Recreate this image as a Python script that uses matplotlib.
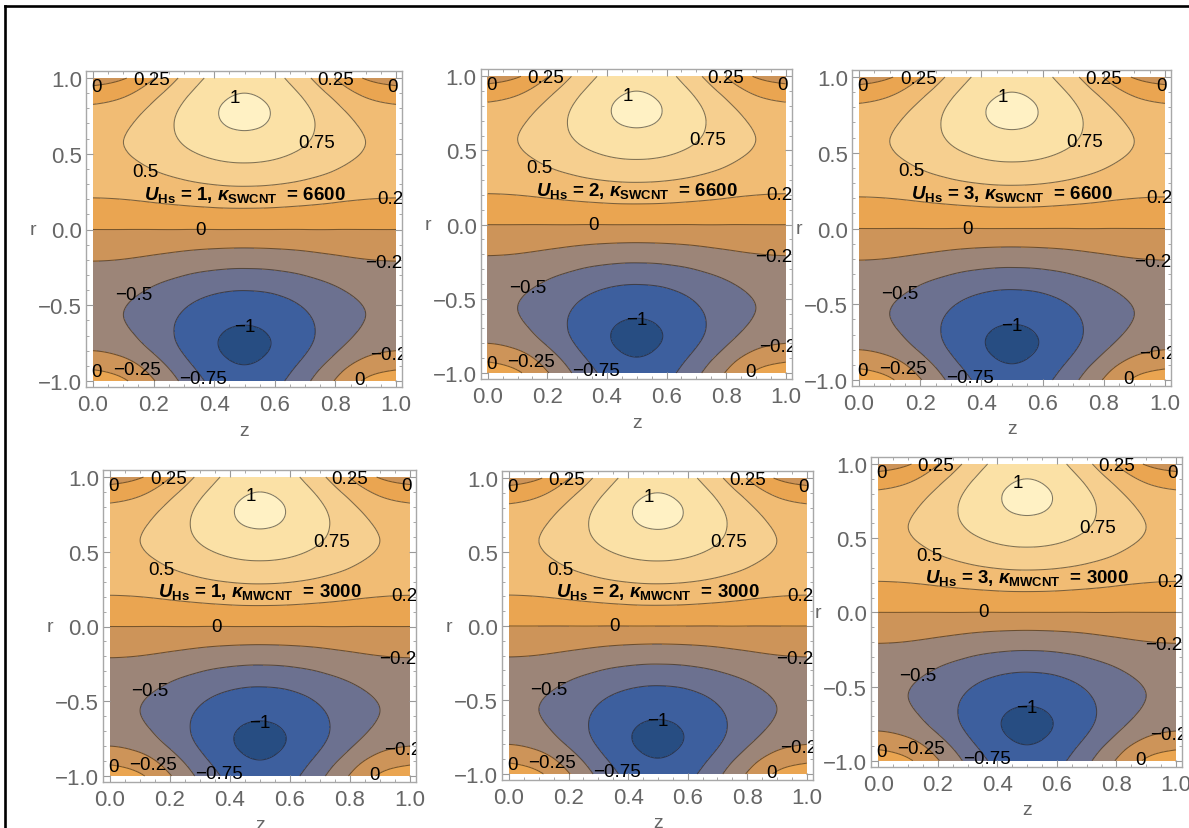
import numpy as np
import matplotlib
matplotlib.use("Agg")
import matplotlib.pyplot as plt
from matplotlib import tri as mtri
from matplotlib.lines import Line2D
from matplotlib.ticker import MultipleLocator

# ---------------- data ----------------
z_vals = [0.0, 0.1, 0.2, 0.3, 0.4, 0.5, 0.6, 0.7, 0.8, 0.9, 1.0]
r_vals = [-1.0, -0.9, -0.8, -0.7, -0.6, -0.5, -0.4, -0.3, -0.2, -0.1, 0.0,
          0.1, 0.2, 0.3, 0.4, 0.5, 0.6, 0.7, 0.8, 0.9, 1.0]

# field value at (r, z); one row per r value (from r=-1 to r=1)
field_rows = [
    [0.13, 0.030, -0.233, -0.557, -0.820, -0.92, -0.820, -0.557, -0.233, 0.030, 0.13],
    [-0.05, -0.140, -0.377, -0.668, -0.905, -0.995, -0.905, -0.668, -0.377, -0.140, -0.05],
    [-0.25, -0.326, -0.526, -0.774, -0.974, -1.05, -0.974, -0.774, -0.526, -0.326, -0.25],
    [-0.385, -0.448, -0.611, -0.814, -0.977, -1.04, -0.977, -0.814, -0.611, -0.448, -0.385],
    [-0.445, -0.496, -0.628, -0.792, -0.924, -0.975, -0.924, -0.792, -0.628, -0.496, -0.445],
    [-0.45, -0.491, -0.597, -0.728, -0.834, -0.875, -0.834, -0.728, -0.597, -0.491, -0.45],
    [-0.41, -0.442, -0.526, -0.629, -0.713, -0.745, -0.713, -0.629, -0.526, -0.442, -0.41],
    [-0.34, -0.362, -0.421, -0.494, -0.553, -0.575, -0.553, -0.494, -0.421, -0.362, -0.34],
    [-0.24, -0.255, -0.295, -0.345, -0.385, -0.40, -0.385, -0.345, -0.295, -0.255, -0.24],
    [-0.12, -0.128, -0.149, -0.176, -0.197, -0.205, -0.197, -0.176, -0.149, -0.128, -0.12],
    [0.0, 0.0, 0.0, 0.0, 0.0, 0.0, 0.0, 0.0, 0.0, 0.0, 0.0],
    [0.12, 0.126, 0.141, 0.159, 0.174, 0.18, 0.174, 0.159, 0.141, 0.126, 0.12],
    [0.24, 0.251, 0.280, 0.315, 0.344, 0.355, 0.344, 0.315, 0.280, 0.251, 0.24],
    [0.34, 0.358, 0.404, 0.461, 0.507, 0.525, 0.507, 0.461, 0.404, 0.358, 0.34],
    [0.41, 0.437, 0.507, 0.593, 0.663, 0.69, 0.663, 0.593, 0.507, 0.437, 0.41],
    [0.45, 0.487, 0.583, 0.702, 0.798, 0.835, 0.798, 0.702, 0.583, 0.487, 0.45],
    [0.45, 0.498, 0.624, 0.781, 0.907, 0.955, 0.907, 0.781, 0.624, 0.498, 0.45],
    [0.40, 0.460, 0.618, 0.812, 0.970, 1.03, 0.970, 0.812, 0.618, 0.460, 0.40],
    [0.29, 0.363, 0.553, 0.787, 0.977, 1.05, 0.977, 0.787, 0.553, 0.363, 0.29],
    [0.11, 0.195, 0.418, 0.693, 0.915, 1.0, 0.915, 0.693, 0.418, 0.195, 0.11],
    [-0.12, -0.021, 0.239, 0.561, 0.821, 0.92, 0.821, 0.561, 0.239, -0.021, -0.12],
]

contour_levels = [-1.0, -0.75, -0.5, -0.25, 0.0, 0.25, 0.5, 0.75, 1.0]

u_hs = [1, 2, 3, 1, 2, 3]
nanotube = ["SWCNT", "SWCNT", "SWCNT", "MWCNT", "MWCNT", "MWCNT"]
kappa = [6600, 6600, 6600, 3000, 3000, 3000]

# ---------------- style / layout ----------------
band_colors = ["#274d82", "#3d5f9e", "#6c7190", "#9c8578", "#cd9459",
               "#eaa551", "#f1bc74", "#f6cf8f", "#fbe1a6", "#fff1c4"]

# contour label positions (z, r) and which level they show
label_specs = [(0.012, 0.945, 0.0), (0.194, 0.99, 0.25), (0.80, 0.99, 0.25),
               (0.989, 0.945, 0.0), (0.469, 0.873, 1.0), (0.738, 0.571, 0.75),
               (0.172, 0.382, 0.5), (0.998, 0.206, 0.25), (0.355, 0.003, 0.0),
               (0.978, -0.217, -0.25), (0.133, -0.426, -0.5), (0.50, -0.639, -1.0),
               (0.992, -0.822, -0.25), (0.881, -0.990, 0.0), (0.364, -0.985, -0.75),
               (0.144, -0.921, -0.25), (0.012, -0.939, 0.0)]

# data region of each panel in pixels: z=0, z=1, r=1, r=-1
panel_px = [(93, 396, 79, 382), (487.7, 785.7, 77.3, 374), (859, 1165, 78, 381),
            (110, 410, 478, 777), (509, 806.7, 479, 775), (878.3, 1176, 465, 761.7)]

W, H = 1189, 829
plt.rcParams["font.family"] = ["Liberation Sans", "DejaVu Sans"]
plt.rcParams["mathtext.fontset"] = "custom"
plt.rcParams["mathtext.rm"] = "Liberation Sans:bold"
plt.rcParams["mathtext.it"] = "Liberation Sans:bold:italic"
plt.rcParams["mathtext.bf"] = "Liberation Sans:bold"

fig = plt.figure(figsize=(W / 100, H / 100), dpi=100)

# triangulated field, refined by matplotlib for smooth contours
Zg, Rg = np.meshgrid(np.array(z_vals), np.array(r_vals))
F = np.array(field_rows)
triang = mtri.Triangulation(Zg.ravel(), Rg.ravel())
interp = mtri.CubicTriInterpolator(triang, F.ravel(), kind="min_E")
refiner = mtri.UniformTriRefiner(triang)
tri_f, f_f = refiner.refine_field(F.ravel(), triinterpolator=interp, subdiv=4)

fill_levels = [-5.0] + contour_levels + [5.0]
grey = "#666666"
frame_c = "#a8a8a8"


def fmt_level(v):
    return ("%g" % v).replace("-", "\u2212")


for i, (z0, z1, rt, rb) in enumerate(panel_px):
    w = z1 - z0
    h = rb - rt
    x0, x1 = z0 - 7, z1 + 6
    y0, y1 = rt - 7, rb + 6
    ax = fig.add_axes([x0 / W, 1 - y1 / H, (x1 - x0) / W, (y1 - y0) / H])
    ax.set_xlim(-7 / w, 1 + 6 / w)
    ax.set_ylim(-1 - 12 / h, 1 + 14 / h)

    ax.tricontourf(tri_f, f_f, levels=fill_levels, colors=band_colors)
    ax.tricontour(tri_f, f_f, levels=contour_levels, colors=[(0.1, 0.08, 0.05, 0.55)],
                  linewidths=0.75, linestyles="solid")

    for (lz, lr, lv) in label_specs:
        ax.text(lz, lr, fmt_level(lv), fontsize=13.5, color="black",
                ha="center", va="center", clip_on=True, zorder=5)

    ax.text(0.5, 0.235,
            r"$U_{\mathrm{Hs}}$ = %d, $\kappa_{\mathrm{%s}}$  = %d" % (u_hs[i], nanotube[i], kappa[i]),
            fontsize=13.5, fontweight="bold", ha="center", va="center", color="black", zorder=6)

    for s in ax.spines.values():
        s.set_color(frame_c)
        s.set_linewidth(1.0)
    ax.xaxis.set_major_locator(MultipleLocator(0.2))
    ax.xaxis.set_minor_locator(MultipleLocator(0.05))
    ax.yaxis.set_major_locator(MultipleLocator(0.5))
    ax.yaxis.set_minor_locator(MultipleLocator(0.1))
    ax.tick_params(which="both", direction="in", top=True, right=True,
                   color="#9a9a9a", labelcolor=grey, labelsize=16)
    ax.tick_params(which="major", length=5, width=0.8)
    ax.tick_params(which="minor", length=2.5, width=0.6)
    ax.tick_params(axis="x", pad=5)
    ax.tick_params(axis="y", pad=3)

    # axis labels
    fig.text((z0 - 60) / W, 1 - ((rt + rb) / 2) / H, "r", fontsize=14, color=grey,
             ha="center", va="center")
    fig.text(((z0 + z1) / 2) / W, 1 - (rb + 49) / H, "z", fontsize=14, color=grey,
             ha="center", va="center")

# outer frame lines (top and left)
fig.add_artist(Line2D([5 / W, 1.0], [1 - 7 / H, 1 - 7 / H], color="black", lw=1.9,
                      transform=fig.transFigure))
fig.add_artist(Line2D([5 / W, 5 / W], [0.0, 1 - 7 / H], color="black", lw=1.9,
                      transform=fig.transFigure))

fig.savefig("out.png", dpi=100, facecolor="white")
